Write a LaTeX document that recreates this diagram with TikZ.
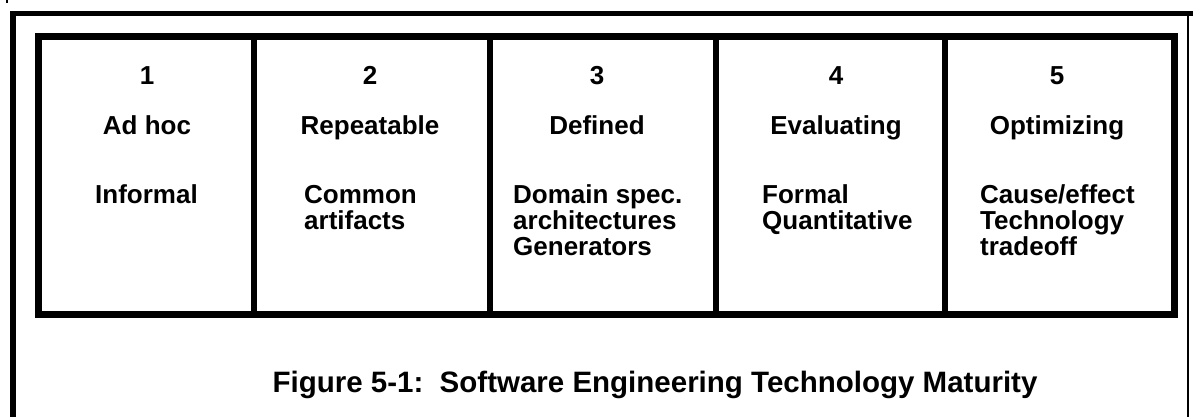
\documentclass[tikz,border=0pt]{standalone}
\usepackage{fontspec}
\setmainfont{Liberation Sans}
\usepackage{tikz}
\usetikzlibrary{positioning}

\begin{document}
\begin{tikzpicture}[x=1pt,y=-1pt,
    frame/.style={line width=5.5pt},
    grid/.style={line width=7pt},
    sep/.style={line width=6pt},
    txt/.style={font=\fontsize{26}{26}\selectfont\bfseries,
        inner sep=0pt, text height=19pt, text depth=7pt},
    num/.style={txt, anchor=base},
    level/.style={txt, below=23pt of #1},
    body/.style={txt, anchor=base west},
    more/.style={txt, anchor=north west}]
\useasboundingbox (0,0) rectangle (1193,417);

\coordinate (fnw) at (13,13.5);
\coordinate (fne) at (1193,13.5);
\coordinate (fsw) at (13,417);
\coordinate (fr) at (1188,13.5);
\coordinate (fs) at (1188,417);
\draw[frame] (fsw) -- (fnw) -- (fne);
\draw[line width=2pt] (fr) -- (fs);
\coordinate (tick) at (7,0);
\draw[line width=1.5pt] (tick) -- ++(0,3.5);

\coordinate (nw) at (38.5,37);
\coordinate (se) at (1174.5,314.5);
\draw[grid] (nw) rectangle (se);
\coordinate (d1) at (254,0);
\coordinate (d2) at (490,0);
\coordinate (d3) at (716,0);
\coordinate (d4) at (945,0);
\draw[sep] (d1 |- nw) -- (d1 |- se);
\draw[sep] (d2 |- nw) -- (d2 |- se);
\draw[sep] (d3 |- nw) -- (d3 |- se);
\draw[sep] (d4 |- nw) -- (d4 |- se);

\node[num] (n1) at (147,85) {1};
\node[level=n1] (l1) {Ad hoc};
\node[body] (b1) at (95,203) {Informal};

\node[num] (n2) at (370,85) {2};
\node[level=n2] (l2) {Repeatable};
\node[body] (b2) at (304,203) {Common};
\node[more] (b2a) at (b2.south west) {artifacts};

\node[num] (n3) at (597,85) {3};
\node[level=n3] (l3) {Defined};
\node[body] (b3) at (513,203) {Domain spec.};
\node[more] (b3a) at (b3.south west) {architectures};
\node[more] (b3b) at (b3a.south west) {Generators};

\node[num] (n4) at (836,85) {4};
\node[level=n4] (l4) {Evaluating};
\node[body] (b4) at (762,203) {Formal};
\node[more] (b4a) at (b4.south west) {Quantitative};

\node[num] (n5) at (1057,85) {5};
\node[level=n5] (l5) {Optimizing};
\node[body] (b5) at (980,203) {Cause/effect};
\node[more] (b5a) at (b5.south west) {Technology};
\node[more] (b5b) at (b5a.south west) {tradeoff};

\node[font=\fontsize{29.5}{29.5}\selectfont\bfseries, anchor=base, inner sep=0pt]
    (cap) at (655,392) {Figure 5-1:\ \ Software Engineering Technology Maturity};
\end{tikzpicture}
\end{document}
